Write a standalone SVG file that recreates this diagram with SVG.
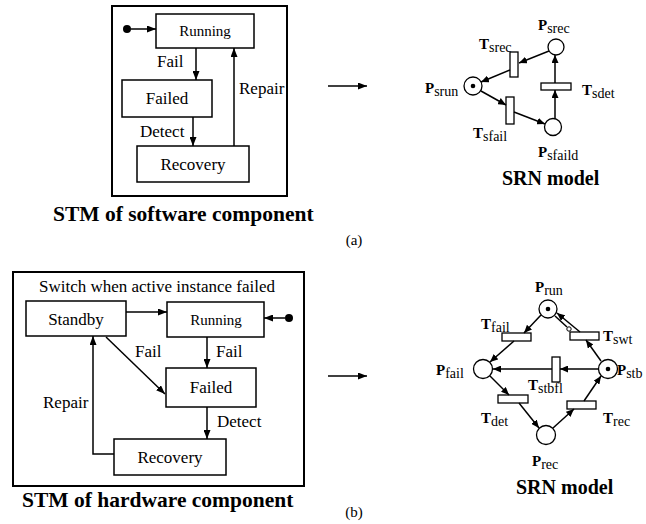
<svg xmlns="http://www.w3.org/2000/svg" width="646" height="524" viewBox="0 0 646 524" font-family="'Liberation Serif','DejaVu Serif',serif">
<defs>
<style>
text, tspan{font-family:'Liberation Serif','DejaVu Serif',serif;fill:#000}
.n{font-size:17px;text-anchor:middle}
.r{font-size:15px;text-anchor:middle}
.l{font-size:17px}
.t{font-size:21.5px;font-weight:bold}
.srn{font-size:20px;font-weight:bold}
.cap{font-size:15px;text-anchor:middle}
.b{font-size:15px;font-weight:bold}
.s{font-size:14px}
.box{fill:#fff;stroke:#000;stroke-width:1.5}
.outer{fill:none;stroke:#000;stroke-width:2}
.ln{fill:none;stroke:#000;stroke-width:1.5}
.pl{fill:#fff;stroke:#000;stroke-width:1.3}
.tr{fill:#fff;stroke:#000;stroke-width:1.3}
</style>
<marker id="ah" markerUnits="userSpaceOnUse" markerWidth="9" markerHeight="7" refX="9" refY="3.5" orient="auto">
<path d="M0,0 L9,3.5 L0,7 z" fill="#000"/>
</marker>
<marker id="sh" markerUnits="userSpaceOnUse" markerWidth="8" markerHeight="7" refX="8" refY="3.5" orient="auto">
<path d="M0,0 L8,3.5 L0,7 z" fill="#000"/>
</marker>
</defs>

<!-- (a) STM -->
<g id="stm-a">
<rect class="outer" x="112" y="6" width="175" height="190"/>
<g id="a-running"><rect class="box" x="156" y="14" width="98" height="34"/><text class="r" x="205" y="36">Running</text></g>
<g id="a-failed"><rect class="box" x="122" y="80" width="90" height="37"/><text class="n" x="167" y="104">Failed</text></g>
<g id="a-recovery"><rect class="box" x="137" y="146" width="112" height="36"/><text class="n" x="193" y="170">Recovery</text></g>
<g id="a-init"><circle cx="127" cy="29" r="4" fill="#000"/></g>
</g>
<g id="a-connectors">
<line class="ln" x1="131" y1="29" x2="156" y2="29" marker-end="url(#ah)"/>
<line class="ln" x1="196" y1="48" x2="196" y2="80" marker-end="url(#ah)"/>
<line class="ln" x1="193" y1="117" x2="193" y2="146" marker-end="url(#ah)"/>
<line class="ln" x1="234" y1="146" x2="234" y2="48" marker-end="url(#ah)"/>
<text class="l" x="157" y="67">Fail</text>
<text class="l" x="140" y="137">Detect</text>
<text class="l" x="239" y="94">Repair</text>
</g>
<text class="t" x="53" y="221">STM of software component</text>
<line class="ln" x1="328" y1="86" x2="367" y2="86" marker-end="url(#ah)"/>
<text class="cap" x="354" y="245">(a)</text>

<!-- (a) SRN -->
<g id="p-srun"><circle class="pl" cx="473" cy="86" r="9"/><circle cx="473" cy="86" r="2.3" fill="#000"/></g>
<g id="p-srec"><circle class="pl" cx="556" cy="47" r="8"/></g>
<g id="p-sfaild"><circle class="pl" cx="553" cy="127" r="8.5"/></g>
<g id="t-srec"><rect class="tr" x="510" y="52" width="8" height="25"/></g>
<g id="t-sfail"><rect class="tr" x="506" y="97" width="8" height="27"/></g>
<g id="t-sdet"><rect class="tr" x="541" y="83" width="30" height="7"/></g>
<g id="a-srn-connectors">
<line class="ln" x1="549" y1="51" x2="519" y2="63" marker-end="url(#sh)"/>
<line class="ln" x1="510" y1="70" x2="481" y2="82" marker-end="url(#sh)"/>
<line class="ln" x1="481" y1="91" x2="506" y2="105" marker-end="url(#sh)"/>
<line class="ln" x1="514" y1="112" x2="545" y2="124" marker-end="url(#sh)"/>
<line class="ln" x1="555" y1="119" x2="555" y2="90" marker-end="url(#sh)"/>
<line class="ln" x1="555" y1="83" x2="555" y2="55" marker-end="url(#sh)"/>
</g>
<text x="538" y="30"><tspan class="b">P</tspan><tspan class="s" dy="3">srec</tspan></text>
<text x="479" y="49"><tspan class="b">T</tspan><tspan class="s" dy="3">srec</tspan></text>
<text x="425" y="93"><tspan class="b">P</tspan><tspan class="s" dy="3">srun</tspan></text>
<text x="582" y="95"><tspan class="b">T</tspan><tspan class="s" dy="3">sdet</tspan></text>
<text x="473" y="138"><tspan class="b">T</tspan><tspan class="s" dy="3">sfail</tspan></text>
<text x="538" y="157"><tspan class="b">P</tspan><tspan class="s" dy="3">sfaild</tspan></text>
<text class="srn" x="502" y="185">SRN model</text>

<!-- (b) STM -->
<g id="stm-b">
<rect class="outer" x="13" y="272" width="291" height="214"/>
<text class="l" x="157" y="292" text-anchor="middle">Switch when active instance failed</text>
<g id="b-standby"><rect class="box" x="26" y="301" width="100" height="35"/><text class="n" x="76" y="325">Standby</text></g>
<g id="b-running"><rect class="box" x="167" y="302" width="97" height="35"/><text class="r" x="216" y="325">Running</text></g>
<g id="b-failed"><rect class="box" x="166" y="368" width="90" height="39"/><text class="n" x="211" y="393">Failed</text></g>
<g id="b-recovery"><rect class="box" x="114" y="439" width="112" height="36"/><text class="n" x="170" y="463">Recovery</text></g>
<g id="b-init"><circle cx="289" cy="318" r="4" fill="#000"/></g>
</g>
<g id="b-connectors">
<line class="ln" x1="285" y1="318" x2="264" y2="318" marker-end="url(#ah)"/>
<line class="ln" x1="126" y1="312" x2="167" y2="312" marker-end="url(#ah)"/>
<line class="ln" x1="207" y1="337" x2="207" y2="368" marker-end="url(#ah)"/>
<line class="ln" x1="106" y1="337" x2="165" y2="394" marker-end="url(#ah)"/>
<line class="ln" x1="207" y1="407" x2="207" y2="439" marker-end="url(#ah)"/>
<polyline class="ln" points="114,454 93,454 93,336" marker-end="url(#ah)"/>
<text class="l" x="135" y="357">Fail</text>
<text class="l" x="216" y="357">Fail</text>
<text class="l" x="217" y="427">Detect</text>
<text class="l" x="43" y="408">Repair</text>
</g>
<text class="t" x="22" y="507">STM of hardware component</text>
<line class="ln" x1="328" y1="376" x2="367" y2="376" marker-end="url(#ah)"/>
<text class="cap" x="354" y="517">(b)</text>

<!-- (b) SRN -->
<g id="p-run"><circle class="pl" cx="548" cy="309" r="9"/><circle cx="548" cy="309" r="2.3" fill="#000"/></g>
<g id="p-fail"><circle class="pl" cx="483" cy="369" r="9.5"/></g>
<g id="p-stb"><circle class="pl" cx="608" cy="369" r="9.5"/><circle cx="608" cy="369" r="2.3" fill="#000"/></g>
<g id="p-rec"><circle class="pl" cx="546" cy="435" r="9.5"/></g>
<g id="t-fail"><rect class="tr" x="502" y="333" width="29" height="8"/></g>
<g id="t-swt"><rect class="tr" x="570" y="332" width="29" height="8"/></g>
<g id="t-stbfl"><rect class="tr" x="552" y="357" width="8" height="25"/></g>
<g id="t-det"><rect class="tr" x="498" y="395" width="30" height="8"/></g>
<g id="t-rec"><rect class="tr" x="567" y="401" width="29" height="8"/></g>
<g id="b-srn-connectors">
<line class="ln" x1="541" y1="315" x2="524" y2="333" marker-end="url(#sh)"/>
<line class="ln" x1="514" y1="341" x2="490" y2="362" marker-end="url(#sh)"/>
<line class="ln" x1="598" y1="369" x2="560" y2="369" marker-end="url(#sh)"/>
<line class="ln" x1="552" y1="369" x2="493" y2="369" marker-end="url(#sh)"/>
<line class="ln" x1="601" y1="361" x2="586" y2="340" marker-end="url(#sh)"/>
<line class="ln" x1="580" y1="332" x2="557" y2="313" marker-end="url(#sh)"/>
<line class="ln" x1="555" y1="316" x2="567" y2="327"/>
<circle cx="569" cy="329" r="2.2" fill="#fff" stroke="#000" stroke-width="1"/>
<line class="ln" x1="490" y1="376" x2="509" y2="395" marker-end="url(#sh)"/>
<line class="ln" x1="519" y1="403" x2="539" y2="428" marker-end="url(#sh)"/>
<line class="ln" x1="553" y1="428" x2="574" y2="409" marker-end="url(#sh)"/>
<line class="ln" x1="584" y1="401" x2="601" y2="376" marker-end="url(#sh)"/>
</g>
<text x="535" y="292"><tspan class="b">P</tspan><tspan class="s" dy="3">run</tspan></text>
<text x="481" y="329"><tspan class="b">T</tspan><tspan class="s" dy="3">fail</tspan></text>
<text x="603" y="341"><tspan class="b">T</tspan><tspan class="s" dy="3">swt</tspan></text>
<text x="436" y="375"><tspan class="b">P</tspan><tspan class="s" dy="3">fail</tspan></text>
<text x="617" y="375"><tspan class="b">P</tspan><tspan class="s" dy="3">stb</tspan></text>
<text x="528" y="390"><tspan class="b">T</tspan><tspan class="s" dy="3">stbfl</tspan></text>
<text x="481" y="423"><tspan class="b">T</tspan><tspan class="s" dy="3">det</tspan></text>
<text x="603" y="423"><tspan class="b">T</tspan><tspan class="s" dy="3">rec</tspan></text>
<text x="532" y="466"><tspan class="b">P</tspan><tspan class="s" dy="3">rec</tspan></text>
<text class="srn" x="516" y="494">SRN model</text>
</svg>
